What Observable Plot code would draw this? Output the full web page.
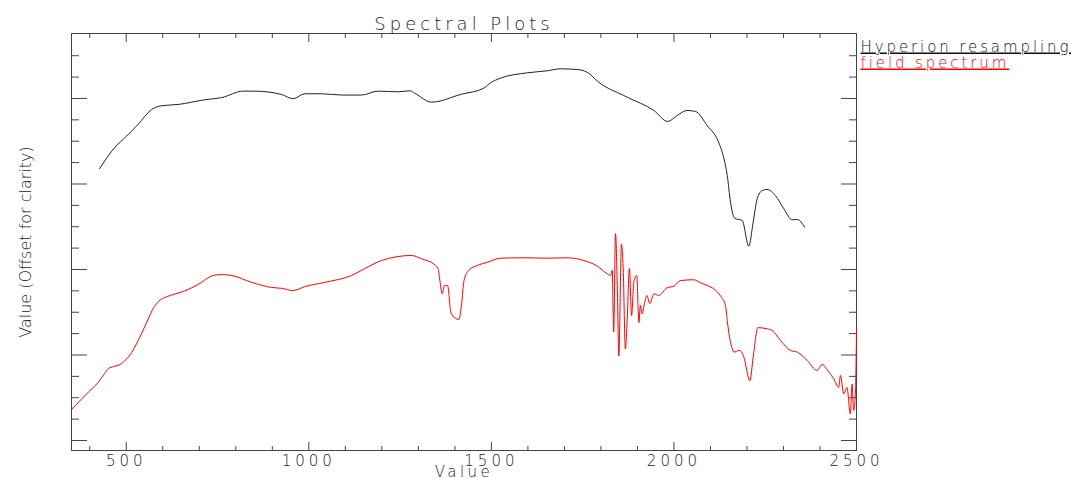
<!DOCTYPE html>
<html><head><meta charset="utf-8">
<script src="https://cdn.jsdelivr.net/npm/d3@7"></script>
<script src="https://cdn.jsdelivr.net/npm/@observablehq/plot@0.6"></script>
<style>
body{margin:0;background:#fff}
</style>
</head><body><div id="chart"></div>
<script>
// Hyperion resampled spectrum (offset)
const hypWl  = [427,469,501,533,569,597,642,715,761,820,852,925,957,989,1035,1090,1144,1190,1245,1277,1290,1336,1418,1479,1498,1525,1598,1653,1689,1735,1762,1794,1872,1945,1983,2009,2036,2059,2091,2123,2137,2146,2155,2166,2187,2205,2217,2228,2242,2255,2278,2301,2324,2338,2358];
const hypVal = [0.418,0.443,0.456,0.470,0.487,0.4915,0.493,0.4985,0.501,0.5086,0.5086,0.5047,0.4997,0.5055,0.5055,0.504,0.504,0.5086,0.5078,0.509,0.5062,0.4957,0.5050,0.512,0.5184,0.5238,0.530,0.5324,0.5347,0.5339,0.5308,0.519,0.5015,0.486,0.4731,0.4801,0.486,0.4848,0.4684,0.4482,0.4295,0.41,0.3787,0.3601,0.3573,0.3273,0.3553,0.3826,0.3924,0.3936,0.3865,0.371,0.3581,0.3585,0.3495];

// Field spectrum
const fieldWl  = [350,372,396,423,440,451,465,478,490,501,515,528,545,560,572,583,595,610,660,697,738,761,788,843,898,925,957,989,1044,1117,1153,1199,1281,1309,1345,1354,1359,1365,1372,1380,1389,1400,1411,1418,1425,1438,1461,1489,1525,1589,1653,1708,1753,1790,1817,1826,1831,1835,1840,1845,1849,1854,1856,1861,1867,1872,1878,1884,1890,1898,1904,1908,1913,1919,1926,1934,1945,1958,1981,2000,2018,2054,2073,2091,2109,2128,2141,2146,2150,2160,2164,2178,2182,2191,2208,2217,2230,2255,2269,2292,2319,2338,2365,2392,2406,2424,2438,2451,2456,2465,2474,2483,2488,2492,2497,2500];
const fieldVal = [0.136,0.146,0.1565,0.168,0.178,0.184,0.1865,0.188,0.191,0.1955,0.203,0.213,0.228,0.242,0.253,0.260,0.265,0.268,0.275,0.2825,0.293,0.294,0.293,0.285,0.279,0.278,0.2754,0.280,0.285,0.293,0.301,0.3105,0.3164,0.3125,0.3055,0.301,0.287,0.2716,0.2813,0.2813,0.250,0.2435,0.2415,0.258,0.287,0.299,0.3047,0.3085,0.3132,0.3137,0.3132,0.3137,0.3105,0.304,0.295,0.293,0.299,0.227,0.342,0.277,0.199,0.297,0.330,0.301,0.207,0.242,0.301,0.246,0.285,0.293,0.238,0.258,0.248,0.260,0.2696,0.260,0.2716,0.2696,0.2786,0.2805,0.287,0.288,0.2844,0.2813,0.2774,0.2688,0.258,0.2404,0.227,0.2072,0.2033,0.2053,0.2049,0.198,0.170,0.1975,0.232,0.2306,0.2287,0.217,0.2053,0.2033,0.1936,0.182,0.189,0.180,0.172,0.162,0.176,0.1546,0.162,0.131,0.166,0.135,0.155,0.229];

const xMajorTicks = [500,1000,1500,2000,2500];
const xMinorTicks = [400,600,700,800,900,1100,1200,1300,1400,1600,1700,1800,1900,2100,2200,2300,2400];
const yMajorTicks = [0.1,0.2,0.3,0.4,0.5];
const yMinorTicks = [0.125,0.15,0.175,0.225,0.25,0.275,0.325,0.35,0.375,0.425,0.45,0.475,0.525,0.55];
const xTickLabels = ["500","1000","1500","2000","2500"];
const titleText = "Spectral Plots";
const xLabelText = "Value";
const yLabelText = "Value (Offset for clarity)";
const seriesNames = ["Hyperion resampling","field spectrum"];
const seriesColors = ["#222222","#ff0000"];

const hyp = hypWl.map((w,i)=>({wl:w, v:hypVal[i]}));
const field = fieldWl.map((w,i)=>({wl:w, v:fieldVal[i]}));

const axisColor = "#444";
const textColor = "#222";
const FONT = "DejaVu Sans";
const W = 300;

function tk(anchor, values, size){
  const f = (anchor==="bottom"||anchor==="top") ? Plot.axisX : Plot.axisY;
  return f(values, {anchor, tickSize:-size, fill:"none", label:null, stroke:axisColor});
}

const chart = Plot.plot({
  width:1071, height:478,
  marginLeft:71, marginRight:215, marginTop:33, marginBottom:28,
  style:{background:"#fff", fontFamily:FONT},
  x:{domain:[350,2500]},
  y:{domain:[0.0883,0.576]},
  marks:[
    Plot.frame({stroke:axisColor}),
    tk("bottom", xMajorTicks, 8), tk("bottom", xMinorTicks, 4),
    tk("top", xMajorTicks, 8), tk("top", xMinorTicks, 4),
    tk("left", yMajorTicks, 16), tk("left", yMinorTicks, 8),
    tk("right", yMajorTicks, 16), tk("right", yMinorTicks, 8),
    Plot.line(field, {x:"wl", y:"v", stroke:seriesColors[1], strokeWidth:1, curve:"monotone-x"}),
    Plot.line(hyp, {x:"wl", y:"v", stroke:seriesColors[0], strokeWidth:1, curve:"monotone-x"}),
    Plot.text(xTickLabels, {x:d=>+d, text:d=>d, frameAnchor:"bottom", dy:15, lineAnchor:"bottom", fontSize:15, fontWeight:W, fill:textColor}),
    Plot.text([titleText], {frameAnchor:"top", dy:-4, lineAnchor:"bottom", fontSize:18, fontWeight:W, fill:textColor}),
    Plot.text([xLabelText], {frameAnchor:"bottom", dy:26, lineAnchor:"bottom", fontSize:15, fontWeight:W, fill:textColor}),
    Plot.text([yLabelText], {frameAnchor:"left", dx:-46, rotate:-90, textAnchor:"middle", fontSize:16, fontWeight:W, fill:textColor}),
    Plot.text([seriesNames[0]], {frameAnchor:"top-right", dx:4, dy:18, textAnchor:"start", lineAnchor:"bottom", fontSize:15, fontWeight:W, fill:"#111"}),
    Plot.text([seriesNames[1]], {frameAnchor:"top-right", dx:4, dy:34, textAnchor:"start", lineAnchor:"bottom", fontSize:15, fontWeight:W, fill:seriesColors[1]})
  ]
});
document.getElementById("chart").appendChild(chart);

const spacing = {};
spacing[titleText] = "4px";
spacing[xLabelText] = "3.5px";
xTickLabels.forEach(t=>spacing[t]="4px");
seriesNames.forEach(t=>spacing[t]="2.9px");
chart.querySelectorAll("text").forEach(t=>{
  const s = t.textContent;
  if (spacing[s]) t.style.letterSpacing = spacing[s];
  if (seriesNames.includes(s)) t.style.textDecoration = "underline";
});
</script>
</body></html>
